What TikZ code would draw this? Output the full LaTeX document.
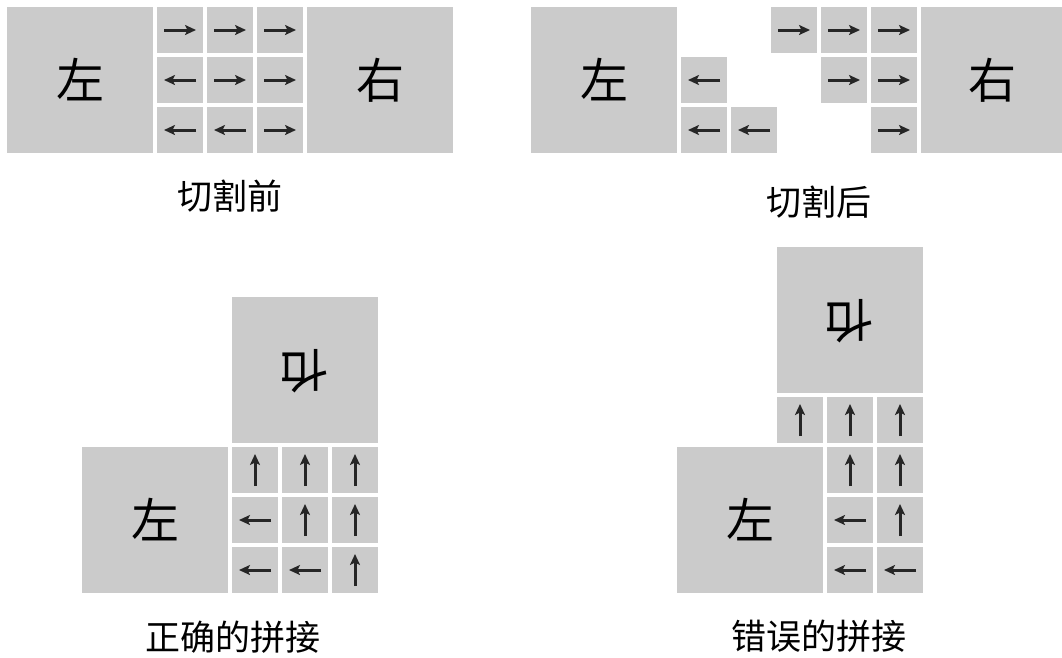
\documentclass[tikz,border=0pt]{standalone}
\usepackage{fontspec}
\usepackage{graphicx}
\usetikzlibrary{arrows.meta,calc}
\newfontfamily\cjk{Noto Sans CJK SC}
\definecolor{blockgray}{RGB}{203,203,203}
\tikzset{
  cellbox/.style={fill=blockgray, draw=none, minimum width=46, minimum height=46, inner sep=0pt, outer sep=0pt},
  bigbox/.style={fill=blockgray, draw=none, minimum width=146, minimum height=146, inner sep=0pt, outer sep=0pt,
                 font=\cjk\fontsize{48}{48}\selectfont},
  caption/.style={font=\cjk\fontsize{35}{35}\selectfont, inner sep=0pt},
  arr/.style={line width=3pt, color=black!85, -{Stealth[length=11pt,width=10pt,inset=2.5pt]}},
}
% #1 name, #2 centre x, #3 centre y, #4 half-vector of the arrow
\newcommand\mycell[4]{%
  \node[cellbox] (#1) at (#2,#3) {};
  \draw[arr] ($(#1.center)-(#4)$) -- ($(#1.center)+(#4)$);
}
\begin{document}
\begin{tikzpicture}[x=1pt,y=-1pt]
\clip (0,0) rectangle (1062,657);
\fill[white] (0,0) rectangle (1062,657);

% ---------- Panel A: before cutting ----------
\node[bigbox] (LA) at (80,80) {左};
\node[bigbox] (RA) at (380,80) {右};
\mycell{a11}{180}{30}{16,0}
\mycell{a12}{230}{30}{16,0}
\mycell{a13}{280}{30}{16,0}
\mycell{a21}{180}{80}{-16,0}
\mycell{a22}{230}{80}{16,0}
\mycell{a23}{280}{80}{16,0}
\mycell{a31}{180}{130}{-16,0}
\mycell{a32}{230}{130}{-16,0}
\mycell{a33}{280}{130}{16,0}
\node[caption] (capA) at (230,196) {切割前};

% ---------- Panel B: after cutting ----------
\node[bigbox] (LB) at (604,80) {左};
\node[bigbox] (RB) at (994,80) {\hspace*{-4pt}右};
\mycell{b21}{704}{80}{-16,0}
\mycell{b31}{704}{130}{-16,0}
\mycell{b32}{754}{130}{-16,0}
\mycell{b13}{794}{30}{16,0}
\mycell{b14}{844}{30}{16,0}
\mycell{b15}{894}{30}{16,0}
\mycell{b24}{844}{80}{16,0}
\mycell{b25}{894}{80}{16,0}
\mycell{b35}{894}{130}{16,0}
\node[caption] (capB) at (819,202) {切割后};

% ---------- Panel C: correct joining ----------
\node[bigbox] (TC) at (305,370) {\reflectbox{\rotatebox{90}{右}}};
\node[bigbox] (LC) at (155,520) {左};
\mycell{c11}{255}{470}{0,-16}
\mycell{c12}{305}{470}{0,-16}
\mycell{c13}{355}{470}{0,-16}
\mycell{c21}{255}{520}{-16,0}
\mycell{c22}{305}{520}{0,-16}
\mycell{c23}{355}{520}{0,-16}
\mycell{c31}{255}{570}{-16,0}
\mycell{c32}{305}{570}{-16,0}
\mycell{c33}{355}{570}{0,-16}
\node[caption] (capC) at (233,637) {正确的拼接};

% ---------- Panel D: wrong joining ----------
\node[bigbox] (TD) at (850,320) {\reflectbox{\rotatebox{90}{右}}};
\mycell{d01}{800}{420}{0,-16}
\mycell{d02}{850}{420}{0,-16}
\mycell{d03}{900}{420}{0,-16}
\node[bigbox] (LD) at (750,520) {左};
\mycell{d12}{850}{470}{0,-16}
\mycell{d13}{900}{470}{0,-16}
\mycell{d22}{850}{520}{-16,0}
\mycell{d23}{900}{520}{0,-16}
\mycell{d32}{850}{570}{-16,0}
\mycell{d33}{900}{570}{-16,0}
\node[caption] (capD) at (819,636) {错误的拼接};
\end{tikzpicture}
\end{document}
